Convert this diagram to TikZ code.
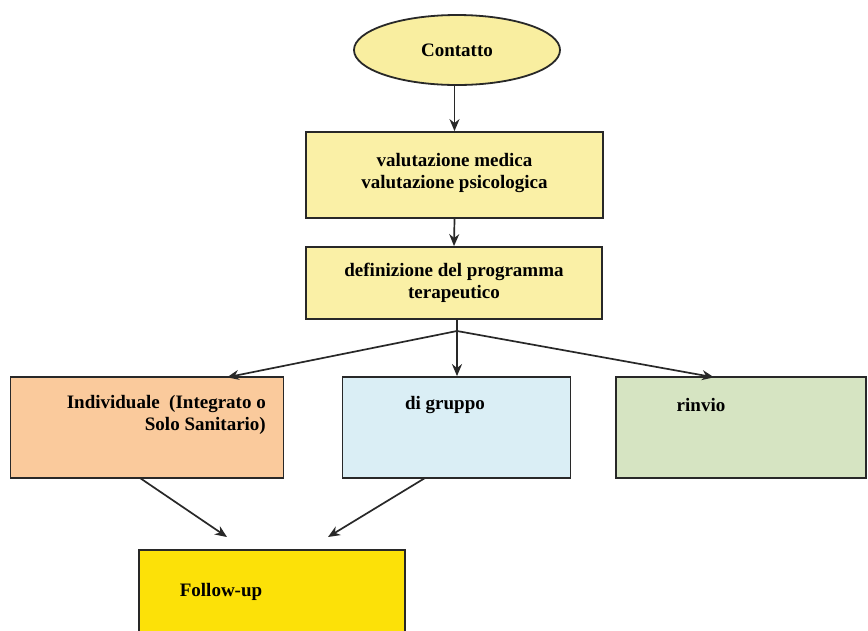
\documentclass[tikz,border=0pt]{standalone}
\usepackage{fontspec}
\setmainfont{Liberation Serif}
\usetikzlibrary{arrows.meta,shapes.geometric}

\definecolor{ovalfill}{RGB}{249,238,160}
\definecolor{stepfill}{RGB}{250,240,166}
\definecolor{peach}{RGB}{250,202,156}
\definecolor{paleblue}{RGB}{218,238,245}
\definecolor{palegreen}{RGB}{214,228,194}
\definecolor{gold}{RGB}{252,225,8}
\definecolor{edge}{RGB}{40,40,40}

\tikzset{
  boxline/.style={draw=edge, line width=1.8pt},
  flowbox/.style={boxline, rectangle, inner sep=0pt},
  lbl/.style={font=\fontsize{19}{22}\selectfont\bfseries, text=black, inner sep=0pt},
  link/.style={draw=edge, line width=1.7pt, -{Stealth[length=12pt,width=10pt]}}
}

\begin{document}
\begin{tikzpicture}[x=1pt, y=-1pt]
  \clip (0,0) rectangle (868,630);
  \fill[white] (0,0) rectangle (868,630);

  % entry point
  \node[boxline, ellipse, fill=ovalfill, minimum width=206pt, minimum height=70pt, inner sep=0pt]
    (contatto) at (457,50) {};
  \node[lbl] (tContatto) at (457,50) {Contatto};

  % assessment and programme definition
  \node[flowbox, fill=stepfill, minimum width=297pt, minimum height=86pt]
    (valut) at (454.5,175) {};
  \node[lbl, align=center] (tValut) at (454.5,173)
    {valutazione medica\\valutazione psicologica};

  \node[flowbox, fill=stepfill, minimum width=296pt, minimum height=72pt]
    (defin) at (454,283) {};
  \node[lbl, align=center] (tDefin) at (454,283)
    {definizione del programma\\terapeutico};

  % treatment options
  \node[flowbox, fill=peach, minimum width=273pt, minimum height=101pt]
    (indiv) at (147,427.5) {};
  \node[lbl, align=right, anchor=north east] (tIndiv) at (266,395)
    {Individuale\ \ (Integrato o\\Solo Sanitario)};

  \node[flowbox, fill=paleblue, minimum width=228pt, minimum height=101pt]
    (gruppo) at (456.5,427.5) {};
  \node[lbl] (tGruppo) at (445,405) {di gruppo};

  \node[flowbox, fill=palegreen, minimum width=250pt, minimum height=101pt]
    (rinvio) at (741,427.5) {};
  \node[lbl] (tRinvio) at (701,405) {rinvio};

  % follow-up
  \node[flowbox, fill=gold, minimum width=266pt, minimum height=110pt]
    (follow) at (272,605) {};
  \node[lbl] (tFollow) at (221,592) {Follow-up};

  % connectors
  \coordinate (split) at (457,331);
  \coordinate (inL) at (227,377.3);
  \coordinate (inR) at (714,377.3);
  \coordinate (outL) at (140,478);
  \coordinate (outR) at (425,478);
  \coordinate (fuL) at (227,537);
  \coordinate (fuR) at (328,537);

  \draw[link] (valut.north |- contatto.south) -- (valut.north);
  \draw[link] (valut.south) -- (defin.north);
  \draw[draw=edge, line width=1.7pt] (defin.south -| split) -- (split);
  \draw[link] (split) -- (inL);
  \draw[link] (split) -- (gruppo.north -| split);
  \draw[link] (split) -- (inR);
  \draw[link] (outL) -- (fuL);
  \draw[link] (outR) -- (fuR);
\end{tikzpicture}
\end{document}
